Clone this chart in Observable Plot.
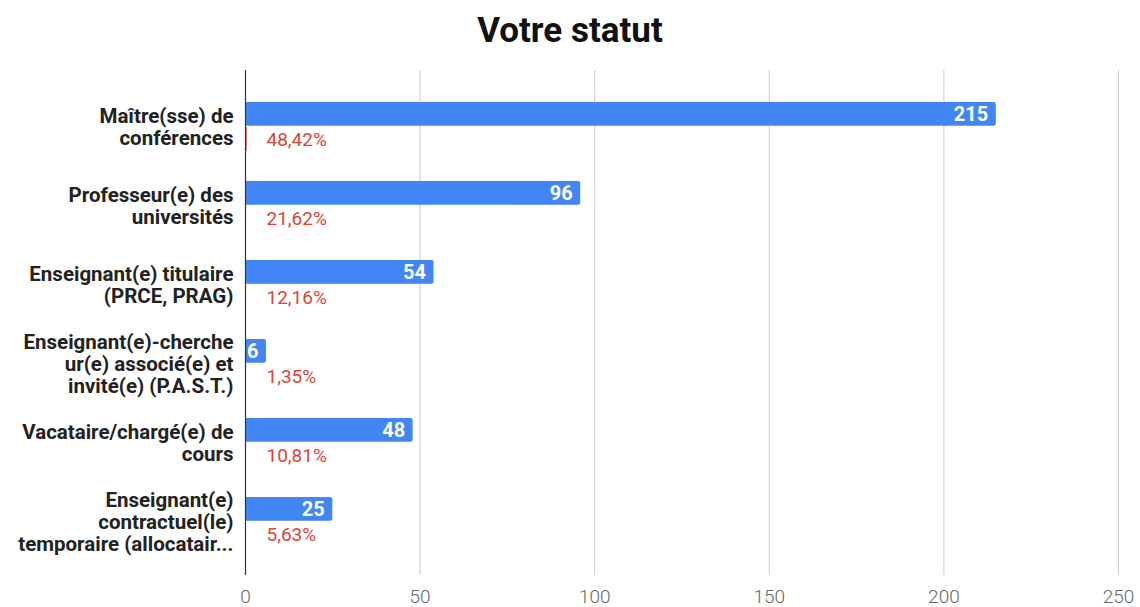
<!DOCTYPE html>
<html>
<head>
<meta charset="utf-8">
<script src="https://cdn.jsdelivr.net/npm/d3@7"></script>
<script src="https://cdn.jsdelivr.net/npm/@observablehq/plot@0.6"></script>
<style>
  html, body { margin: 0; padding: 0; background: #fff; }
  body { width: 1140px; height: 607px; overflow: hidden; font-family: Roboto, sans-serif; }
  #title { box-sizing: border-box; height: 60px; padding-top: 13px; line-height: 1; text-align: center; font-size: 35px; font-weight: bold; color: #111; }
  #chart svg { display: block; }
</style>
</head>
<body>
<div id="title">Votre statut</div>
<div id="chart"></div>
<script>
const categories = [
  "Maître(sse) de\nconférences",
  "Professeur(e) des\nuniversités",
  "Enseignant(e) titulaire\n(PRCE, PRAG)",
  "Enseignant(e)-cherche\nur(e) associé(e) et\ninvité(e) (P.A.S.T.)",
  "Vacataire/chargé(e) de\ncours",
  "Enseignant(e)\ncontractuel(le)\ntemporaire (allocatair..."
];
const counts = [215, 96, 54, 6, 48, 25];
const shares = [0.4842, 0.2162, 0.1216, 0.0135, 0.1081, 0.0563];
const xTicks = [0, 50, 100, 150, 200, 250];

const rows = categories.map((c, i) => ({cat: c, count: counts[i], share: shares[i]}));
const fmtPct = v => (v * 100).toFixed(2).replace(".", ",") + "%";

const blue = "#4285f4";
const red = "#db4437";

const chart = Plot.plot({
  width: 1140,
  height: 547,
  marginLeft: 245,
  marginRight: 22,
  marginTop: 10,
  marginBottom: 32,
  style: {fontFamily: "Roboto, sans-serif", background: "#fff"},
  x: {domain: [0, 250], ticks: xTicks},
  y: {domain: categories, range: [26, 502], padding: 0},
  marks: [
    Plot.gridX(xTicks.slice(1), {stroke: "#cccccc", strokeOpacity: 1, strokeWidth: 1}),
    Plot.axisX({ticks: xTicks, tickSize: 0, tickPadding: 14, fontSize: 19, fontWeight: 300, fill: "#666", label: null}),
    Plot.axisY({tickSize: 0, tickPadding: 12, fontSize: 20.5, fontWeight: "bold", fill: "#222", lineHeight: 1.07, label: null}),
    Plot.barX(rows, {y: "cat", x1: 0, x2: "count", fill: blue, insetTop: 15, insetBottom: 40.3, rx: 2}),
    Plot.barX(rows, {y: "cat", x1: 0, x2: "share", fill: red, insetTop: 40, insetBottom: 15.3}),
    Plot.ruleX([0], {stroke: "#333", strokeWidth: 1.2}),
    Plot.text(rows, {y: "cat", x: "count", text: d => String(d.count), textAnchor: "end", dx: -8, dy: -12.5, fill: "#fff", fontWeight: "bold", fontSize: 20}),
    Plot.text(rows, {y: "cat", x: 0, text: d => fmtPct(d.share), textAnchor: "start", dx: 21, dy: 13, fill: red, fontSize: 19})
  ]
});
document.getElementById("chart").appendChild(chart);
</script>
</body>
</html>
